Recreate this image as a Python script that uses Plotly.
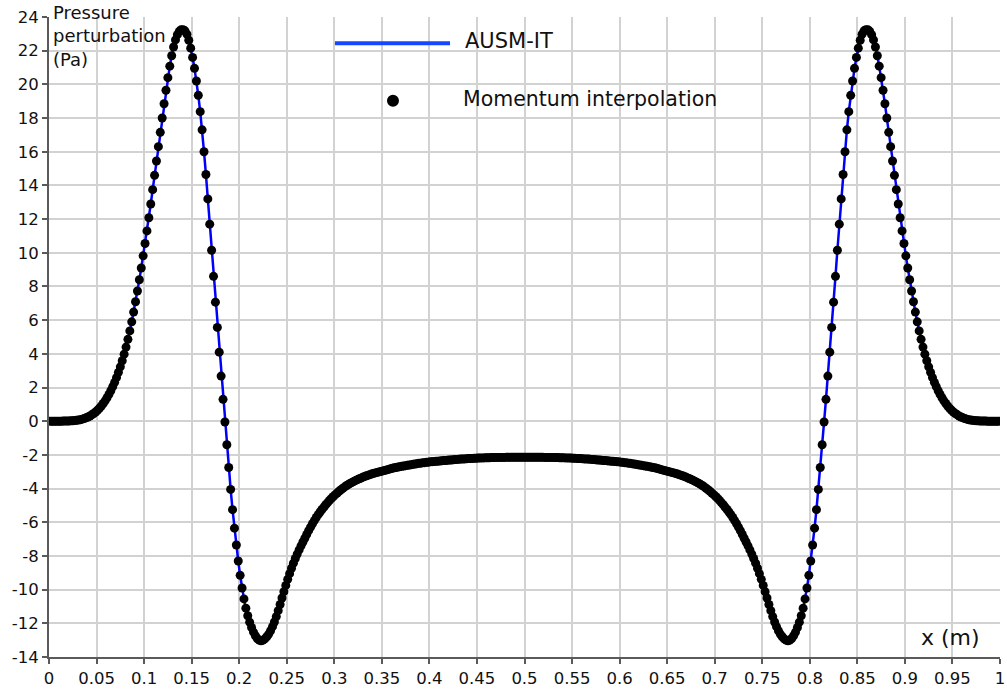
import numpy as np
import plotly.graph_objects as go

# ---- data ----
x_cells = np.linspace(0.001, 0.999, 500)  # uniform cell-centre grid, dx = 0.002

p_left = [
    0, 0, 0, 0, 0, 0, 0, 0.01, 0.01, 0.01,
    0.01, 0.02, 0.03, 0.04, 0.05, 0.07, 0.09, 0.12, 0.16, 0.2,
    0.25, 0.31, 0.38, 0.46, 0.55, 0.65, 0.77, 0.9, 1.05, 1.21,
    1.39, 1.59, 1.81, 2.05, 2.31, 2.59, 2.9, 3.23, 3.59, 3.98,
    4.4, 4.86, 5.36, 5.9, 6.48, 7.09, 7.73, 8.4, 9.1, 9.82,
    10.55, 11.3, 12.08, 12.9, 13.75, 14.6, 15.45, 16.3, 17.15, 18.0,
    18.85, 19.65, 20.4, 21.08, 21.7, 22.22, 22.64, 22.95, 23.15, 23.25,
    23.25, 23.18, 22.98, 22.62, 22.15, 21.6, 20.95, 20.2, 19.35, 18.38,
    17.3, 16.0, 14.65, 13.2, 11.7, 10.15, 8.6, 7.07, 5.57, 4.1,
    2.68, 1.3, -0.05, -1.4, -2.75, -4.05, -5.25, -6.35, -7.35, -8.3,
    -9.15, -9.9, -10.55, -11.1, -11.55, -11.93, -12.25, -12.52, -12.74, -12.9,
    -13.0, -13.04, -13.0, -12.92, -12.8, -12.64, -12.44, -12.2, -11.92, -11.6,
    -11.25, -10.88, -10.5, -10.12, -9.75, -9.39, -9.05, -8.73, -8.43, -8.15,
    -7.89, -7.64, -7.4, -7.17, -6.95, -6.72, -6.5, -6.29, -6.09, -5.9,
    -5.72, -5.55, -5.39, -5.24, -5.1, -4.96, -4.83, -4.7, -4.58, -4.47,
    -4.36, -4.26, -4.16, -4.07, -3.98, -3.9, -3.82, -3.75, -3.68, -3.62,
    -3.56, -3.5, -3.45, -3.4, -3.35, -3.3, -3.26, -3.22, -3.18, -3.14,
    -3.1, -3.07, -3.04, -3.01, -2.98, -2.95, -2.92, -2.89, -2.86, -2.83,
    -2.8, -2.77, -2.75, -2.72, -2.7, -2.68, -2.66, -2.64, -2.62, -2.6,
    -2.58, -2.56, -2.54, -2.52, -2.5, -2.49, -2.47, -2.46, -2.44, -2.43,
    -2.41, -2.4, -2.39, -2.38, -2.37, -2.36, -2.35, -2.34, -2.33, -2.32,
    -2.31, -2.3, -2.29, -2.28, -2.27, -2.26, -2.25, -2.25, -2.24, -2.23,
    -2.22, -2.22, -2.21, -2.2, -2.2, -2.19, -2.19, -2.18, -2.18, -2.17,
    -2.17, -2.17, -2.16, -2.16, -2.16, -2.15, -2.15, -2.15, -2.15, -2.15,
    -2.14, -2.14, -2.14, -2.14, -2.14, -2.14, -2.14, -2.14, -2.14, -2.14,
]

p_right = [
    -2.14, -2.14, -2.14, -2.14, -2.14, -2.14, -2.14, -2.14, -2.14, -2.14,
    -2.15, -2.15, -2.15, -2.15, -2.15, -2.16, -2.16, -2.16, -2.17, -2.17,
    -2.17, -2.18, -2.18, -2.19, -2.19, -2.2, -2.2, -2.21, -2.22, -2.22,
    -2.23, -2.24, -2.25, -2.25, -2.26, -2.27, -2.28, -2.29, -2.3, -2.31,
    -2.32, -2.33, -2.34, -2.35, -2.36, -2.37, -2.38, -2.39, -2.4, -2.41,
    -2.43, -2.44, -2.46, -2.47, -2.49, -2.5, -2.52, -2.54, -2.56, -2.58,
    -2.6, -2.62, -2.64, -2.66, -2.68, -2.7, -2.72, -2.75, -2.77, -2.8,
    -2.83, -2.86, -2.89, -2.92, -2.95, -2.98, -3.01, -3.04, -3.07, -3.1,
    -3.14, -3.18, -3.22, -3.26, -3.3, -3.35, -3.4, -3.45, -3.5, -3.56,
    -3.62, -3.68, -3.75, -3.82, -3.9, -3.98, -4.07, -4.16, -4.26, -4.36,
    -4.47, -4.58, -4.7, -4.83, -4.96, -5.1, -5.24, -5.39, -5.55, -5.72,
    -5.9, -6.09, -6.29, -6.5, -6.72, -6.95, -7.17, -7.4, -7.64, -7.89,
    -8.15, -8.43, -8.73, -9.05, -9.39, -9.75, -10.12, -10.5, -10.88, -11.25,
    -11.6, -11.92, -12.2, -12.44, -12.64, -12.8, -12.92, -13.0, -13.04, -13.0,
    -12.9, -12.74, -12.52, -12.25, -11.93, -11.55, -11.1, -10.55, -9.9, -9.15,
    -8.3, -7.35, -6.35, -5.25, -4.05, -2.75, -1.4, -0.05, 1.3, 2.68,
    4.1, 5.57, 7.07, 8.6, 10.15, 11.7, 13.2, 14.65, 16.0, 17.3,
    18.38, 19.35, 20.2, 20.95, 21.6, 22.15, 22.62, 22.98, 23.18, 23.25,
    23.25, 23.15, 22.95, 22.64, 22.22, 21.7, 21.08, 20.4, 19.65, 18.85,
    18.0, 17.15, 16.3, 15.45, 14.6, 13.75, 12.9, 12.08, 11.3, 10.55,
    9.82, 9.1, 8.4, 7.73, 7.09, 6.48, 5.9, 5.36, 4.86, 4.4,
    3.98, 3.59, 3.23, 2.9, 2.59, 2.31, 2.05, 1.81, 1.59, 1.39,
    1.21, 1.05, 0.9, 0.77, 0.65, 0.55, 0.46, 0.38, 0.31, 0.25,
    0.2, 0.16, 0.12, 0.09, 0.07, 0.05, 0.04, 0.03, 0.02, 0.01,
    0.01, 0.01, 0.01, 0, 0, 0, 0, 0, 0, 0,
]

pressure = p_left + p_right

x_ticks = [0, 0.05, 0.1, 0.15, 0.2, 0.25, 0.3, 0.35, 0.4, 0.45, 0.5,
           0.55, 0.6, 0.65, 0.7, 0.75, 0.8, 0.85, 0.9, 0.95, 1]
x_tick_text = ["0", "0.05", "0.1", "0.15", "0.2", "0.25", "0.3", "0.35", "0.4", "0.45", "0.5",
               "0.55", "0.6", "0.65", "0.7", "0.75", "0.8", "0.85", "0.9", "0.95", "1"]
y_ticks = [-14, -12, -10, -8, -6, -4, -2, 0, 2, 4, 6, 8, 10, 12, 14, 16, 18, 20, 22, 24]
y_tick_text = ["-14", "-12", "-10", "-8", "-6", "-4", "-2", "0", "2", "4", "6", "8",
               "10", "12", "14", "16", "18", "20", "22", "24"]

series_names = ["AUSM-IT", "Momentum interpolation"]

# ---- figure ----
FONT = "DejaVu Sans, Verdana, sans-serif"
GRID = "#d2d2d2"
AXIS = "#5a5a5a"

fig = go.Figure()
fig.add_trace(go.Scatter(
    x=x_cells, y=pressure, mode="lines", name=series_names[0],
    line=dict(color="#0000ff", width=2.5), showlegend=False,
))
fig.add_trace(go.Scatter(
    x=x_cells, y=pressure, mode="markers", name=series_names[1],
    marker=dict(color="black", size=9, line=dict(width=0)), showlegend=False,
))

fig.update_layout(
    width=1007, height=689,
    margin=dict(l=49, r=7, t=17, b=32),
    paper_bgcolor="white", plot_bgcolor="white",
    font=dict(family=FONT, size=16.5, color="#111111"),
    showlegend=False,
)
fig.update_xaxes(
    range=[0, 1], tickmode="array", tickvals=x_ticks, ticktext=x_tick_text,
    showgrid=True, gridcolor=GRID, gridwidth=1.5, zeroline=False,
    showline=True, linecolor=AXIS, linewidth=2,
    ticks="outside", ticklen=5, tickwidth=1.5, tickcolor=AXIS,
    tickfont=dict(family=FONT, size=16.5, color="#111111"), automargin=False,
)
fig.update_yaxes(
    range=[-14, 24], tickmode="array", tickvals=y_ticks, ticktext=y_tick_text,
    showgrid=True, gridcolor=GRID, gridwidth=1.5, zeroline=False,
    showline=True, linecolor=AXIS, linewidth=2,
    ticks="outside", ticklen=5, tickwidth=1.5, tickcolor=AXIS,
    tickfont=dict(family=FONT, size=16.5, color="#111111"), automargin=False,
)

# axis titles placed inside the plot as in the reference
fig.add_annotation(
    xref="paper", yref="paper", x=0, y=1, xanchor="left", yanchor="top",
    xshift=2, yshift=17, align="left", showarrow=False,
    text="Pressure<br>perturbation<br>(Pa)",
    font=dict(family=FONT, size=18, color="#111111"),
)
fig.add_annotation(
    xref="paper", yref="paper", x=0.981, y=0.03, xanchor="right", yanchor="middle",
    showarrow=False, text="x (m)",
    font=dict(family=FONT, size=22, color="#111111"),
)

# custom legend
fig.add_shape(type="line", xref="paper", yref="paper",
              x0=0.3007, x1=0.4217, y0=0.959, y1=0.959,
              line=dict(color="#1447ff", width=4))
fig.add_annotation(
    xref="paper", yref="paper", x=0.4353, y=0.962, xanchor="left", yanchor="middle",
    showarrow=False, text=series_names[0],
    font=dict(family=FONT, size=21, color="#111111"),
)
fig.add_shape(type="circle", xref="paper", yref="paper", xsizemode="pixel", ysizemode="pixel",
              xanchor=0.3617, yanchor=0.869, x0=-6, x1=6, y0=-6, y1=6,
              fillcolor="black", line=dict(width=0))
fig.add_annotation(
    xref="paper", yref="paper", x=0.4332, y=0.872, xanchor="left", yanchor="middle",
    showarrow=False, text=series_names[1],
    font=dict(family=FONT, size=20.5, color="#111111"),
)

fig.write_html("out.html", config={"displayModeBar": False},
               post_script="document.body.style.margin='0px';")
